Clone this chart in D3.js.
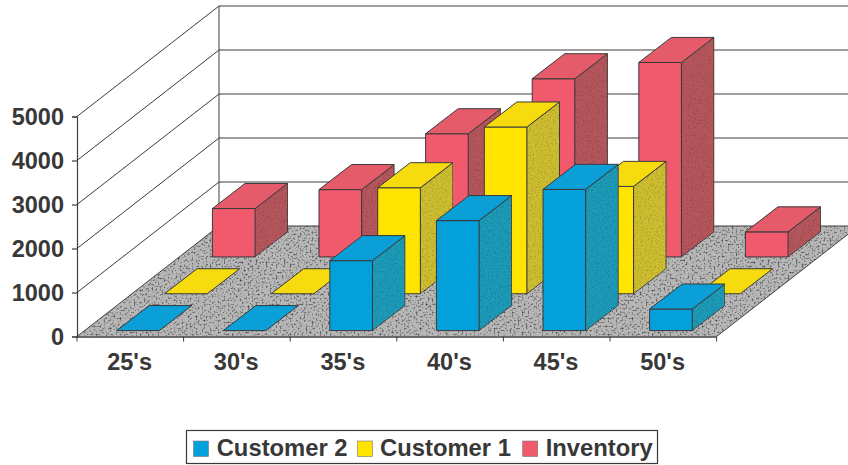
<!DOCTYPE html>
<html>
<head>
<meta charset="utf-8">
<script src="https://cdn.jsdelivr.net/npm/d3@7/dist/d3.min.js"></script>
<style>
html,body{margin:0;padding:0;background:#fff;}
svg{display:block;}
text{font-family:"Liberation Sans",Arial,sans-serif;font-weight:bold;fill:#383838;}
</style>
</head>
<body>
<svg id="chart" width="848" height="465"></svg>
<script>
// Age bands along the front edge of the floor
const categories = ["25's","30's","35's","40's","45's","50's"];
// Series from the front row to the back row
const seriesNames = ["Customer 2","Customer 1","Inventory"];
const customer2 = [0,0,1590,2500,3210,490];
const customer1 = [0,0,2410,3790,2440,0];
const inventory = [1100,1530,2800,4050,4420,570];
const valueTicks = [0,1000,2000,3000,4000,5000];

const seriesValues = [customer2,customer1,inventory];
const faceColors = [
  {front:"#03a0dc",top:"#0a9fd6",side:"#1c9ab8"},
  {front:"#ffe400",top:"#f6dc0e",side:"#cdbd30"},
  {front:"#f05a6c",top:"#e65b6a",side:"#b4565c"}
];

const svg = d3.select("#chart");
const defs = svg.append("defs");

// Speckle used on the floor and on the shaded sides of the bars
function addGrain(id, freq, low, spread, soften){
  const f = defs.append("filter").attr("id",id)
    .attr("x","0").attr("y","0").attr("width","1").attr("height","1")
    .attr("color-interpolation-filters","sRGB");
  f.append("feTurbulence").attr("type","fractalNoise")
    .attr("baseFrequency",freq).attr("numOctaves",2).attr("seed",4).attr("result","n");
  f.append("feColorMatrix").attr("in","n").attr("type","matrix")
    .attr("values",`${spread} 0 0 0 ${low} ${spread} 0 0 0 ${low} ${spread} 0 0 0 ${low} 0 0 0 0 1`)
    .attr("result","g0");
  f.append("feGaussianBlur").attr("in","g0").attr("stdDeviation",soften).attr("result","g");
  f.append("feComposite").attr("in","SourceGraphic").attr("in2","g")
    .attr("operator","arithmetic").attr("k1",1).attr("k2",0).attr("k3",0).attr("k4",0).attr("result","m");
  f.append("feComposite").attr("in","m").attr("in2","SourceAlpha").attr("operator","in");
}
addGrain("floorGrain",0.5,0.08,1.8,0.6);
addGrain("sideGrain",0.6,0.72,0.56,0.3);

// Scales: category across, value up, series running back into the chart
const x = d3.scaleBand().domain(categories).range([77,716.6]).paddingInner(0.6).paddingOuter(0.3);
const y = d3.scaleLinear().domain([0,5000]).range([336.5,116.5]);
const depth = d3.scaleBand().domain(seriesNames).range([0,110.5]).paddingInner(0.32).paddingOuter(0.16);
const skew = 142/110.5, barSkew = 1.3;
const xEnd = x.range()[1], xStart = x.range()[0], wallDepth = depth.range()[1];

// Oblique projection: horizontal position, value and depth to screen coordinates
const proj = (px,v,d,k=skew) => [px + d*k, y(v) - d];
const path = pts => "M" + pts.map(p=>p.join(",")).join("L") + "Z";

const wallColor = "#3c3c3c";

// Floor
svg.append("path")
  .attr("d",path([proj(xStart,0,0),proj(xEnd,0,0),proj(xEnd,0,wallDepth),proj(xStart,0,wallDepth)]))
  .attr("fill","#b8b8b8").attr("filter","url(#floorGrain)");

// Gridlines on the side wall and the back wall
const grid = svg.append("g").attr("fill","none").attr("stroke",wallColor).attr("stroke-width",1);
valueTicks.forEach(v=>{
  const a = proj(xStart,v,0), b = proj(xStart,v,wallDepth), c = proj(xEnd,v,wallDepth);
  grid.append("path").attr("d",`M${a}L${b}L${c}`);
});
grid.append("path").attr("d",`M${proj(xStart,0,wallDepth)}L${proj(xStart,5000,wallDepth)}`);
grid.append("path").attr("d",`M${proj(xEnd,0,0)}L${proj(xEnd,0,wallDepth)}`);

// Bars, back row first so nearer rows overlap them
const edge = {stroke:"#3a3a3a","stroke-width":1,"stroke-linejoin":"round"};
function face(g,pts,fill,grain){
  const p = g.append("path").attr("d",path(pts)).attr("fill",fill);
  Object.entries(edge).forEach(([k,v])=>p.attr(k,v));
  if(grain) p.attr("filter","url(#sideGrain)");
}
d3.range(seriesNames.length-1,-1,-1).forEach(s=>{
  const name = seriesNames[s], col = faceColors[s];
  const d0 = depth(name), d1 = d0 + depth.bandwidth();
  const g = svg.append("g").attr("class","series");
  categories.forEach((c,i)=>{
    const v = seriesValues[s][i];
    const x0 = x(c), x1 = x0 + x.bandwidth();
    const P = (px,val,d) => proj(px,val,d,barSkew);
    if(v>0){
      face(g,[P(x0,0,d0),P(x1,0,d0),P(x1,v,d0),P(x0,v,d0)],col.front);
      face(g,[P(x1,0,d0),P(x1,0,d1),P(x1,v,d1),P(x1,v,d0)],col.side,true);
    }
    face(g,[P(x0,v,d0),P(x1,v,d0),P(x1,v,d1),P(x0,v,d1)],col.top);
  });
});

// Value axis
const yAxis = svg.append("g").attr("transform",`translate(${xStart},0)`)
  .call(d3.axisLeft(y).tickValues(valueTicks).tickFormat(d3.format("d")).tickSize(5).tickPadding(8));
yAxis.selectAll("text").style("font-size","23.5px").attr("dy","0.35em");
yAxis.selectAll("line,path").attr("stroke",wallColor).attr("stroke-width",1.2);

// Category axis: labels centred in each band, ticks on the band boundaries
const xAxis = svg.append("g").attr("transform",`translate(-0.7,${y(0)})`)
  .call(d3.axisBottom(x).tickSize(0).tickPadding(17).tickSizeOuter(0));
xAxis.selectAll("text").style("font-size","23.5px");
xAxis.select("path.domain").attr("stroke",wallColor).attr("stroke-width",1.4);
xAxis.selectAll("line.edge").data(d3.range(categories.length+1)).join("line")
  .attr("class","edge")
  .attr("x1",i=>0.7+xStart+i*x.step()).attr("x2",i=>0.7+xStart+i*x.step())
  .attr("y1",0).attr("y2",5).attr("stroke",wallColor).attr("stroke-width",1);

// Legend
const legend = svg.append("g");
legend.append("rect").attr("x",186.5).attr("y",430.5).attr("width",471).attr("height",33)
  .attr("fill","#fff").attr("stroke","#3a3a3a").attr("stroke-width",1.2);
const swatchX = [193.5,357.5,522.7];
const labelX = [216.7,380,545.7];
seriesNames.forEach((n,i)=>{
  legend.append("rect").attr("x",swatchX[i]).attr("y",441).attr("width",15).attr("height",15.5)
    .attr("fill",faceColors[i].front).attr("stroke","#777").attr("stroke-width",0.6);
  legend.append("text").attr("x",labelX[i]).attr("y",456).style("font-size","23.8px").text(n);
});
</script>
</body>
</html>
